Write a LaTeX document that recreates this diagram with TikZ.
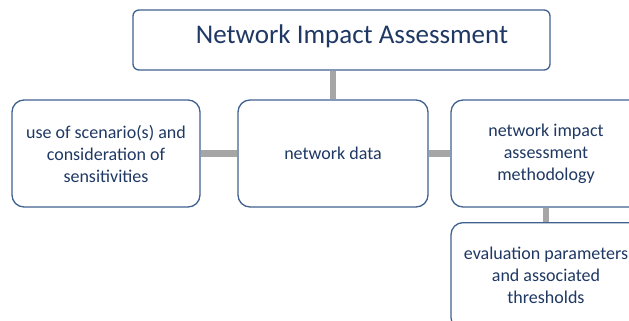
\documentclass[tikz,border=0pt]{standalone}
\usepackage{fontspec}
\usetikzlibrary{backgrounds}
\setmainfont{Carlito}
\definecolor{txt}{HTML}{1F3864}
\definecolor{bord}{HTML}{41618F}
\definecolor{conn}{HTML}{A6A6A6}
\begin{document}
\begin{tikzpicture}[x=1pt,y=-1pt,
  box/.style={draw=bord, line width=1.3pt, rounded corners=12pt, fill=white, text=txt,
    align=center, inner sep=0pt, font=\fontsize{18}{22}\selectfont},
  conn/.style={draw=conn, line width=6.5pt}]
\useasboundingbox (0,0) rectangle (629,321);
\clip (0,0) rectangle (629,321);
\node[box, rounded corners=6pt, minimum width=417pt, minimum height=60pt] (top) at (341.5,40) {};
\node[text=txt, font=\fontsize{27}{30}\selectfont, inner sep=0pt] (toptext) at (352,36) {Network Impact Assessment};
\node[box, minimum width=188pt, minimum height=107pt] (left) at (106,153.5) {use of scenario(s) and\\consideration of\\sensitivities};
\node[box, minimum width=190pt, minimum height=107pt] (mid) at (333,153.5) {network data};
\node[box, minimum width=190pt, minimum height=107pt] (right) at (546,153.5) {network impact\\assessment\\methodology};
\node[box, minimum width=190pt, minimum height=107pt, anchor=north] (bot) at (546,222) {};
\node[text=txt, align=center, inner sep=0pt, font=\fontsize{18}{22}\selectfont] (bottext) at (546,275) {evaluation parameters\\and associated\\thresholds};
\begin{scope}[on background layer]
\draw[conn] (top.south -| mid.north) -- (mid.north);
\draw[conn] (left.east) -- (mid.west);
\draw[conn] (mid.east) -- (right.west);
\draw[conn] (right.south) -- (bot.north);
\end{scope}
\end{tikzpicture}
\end{document}
